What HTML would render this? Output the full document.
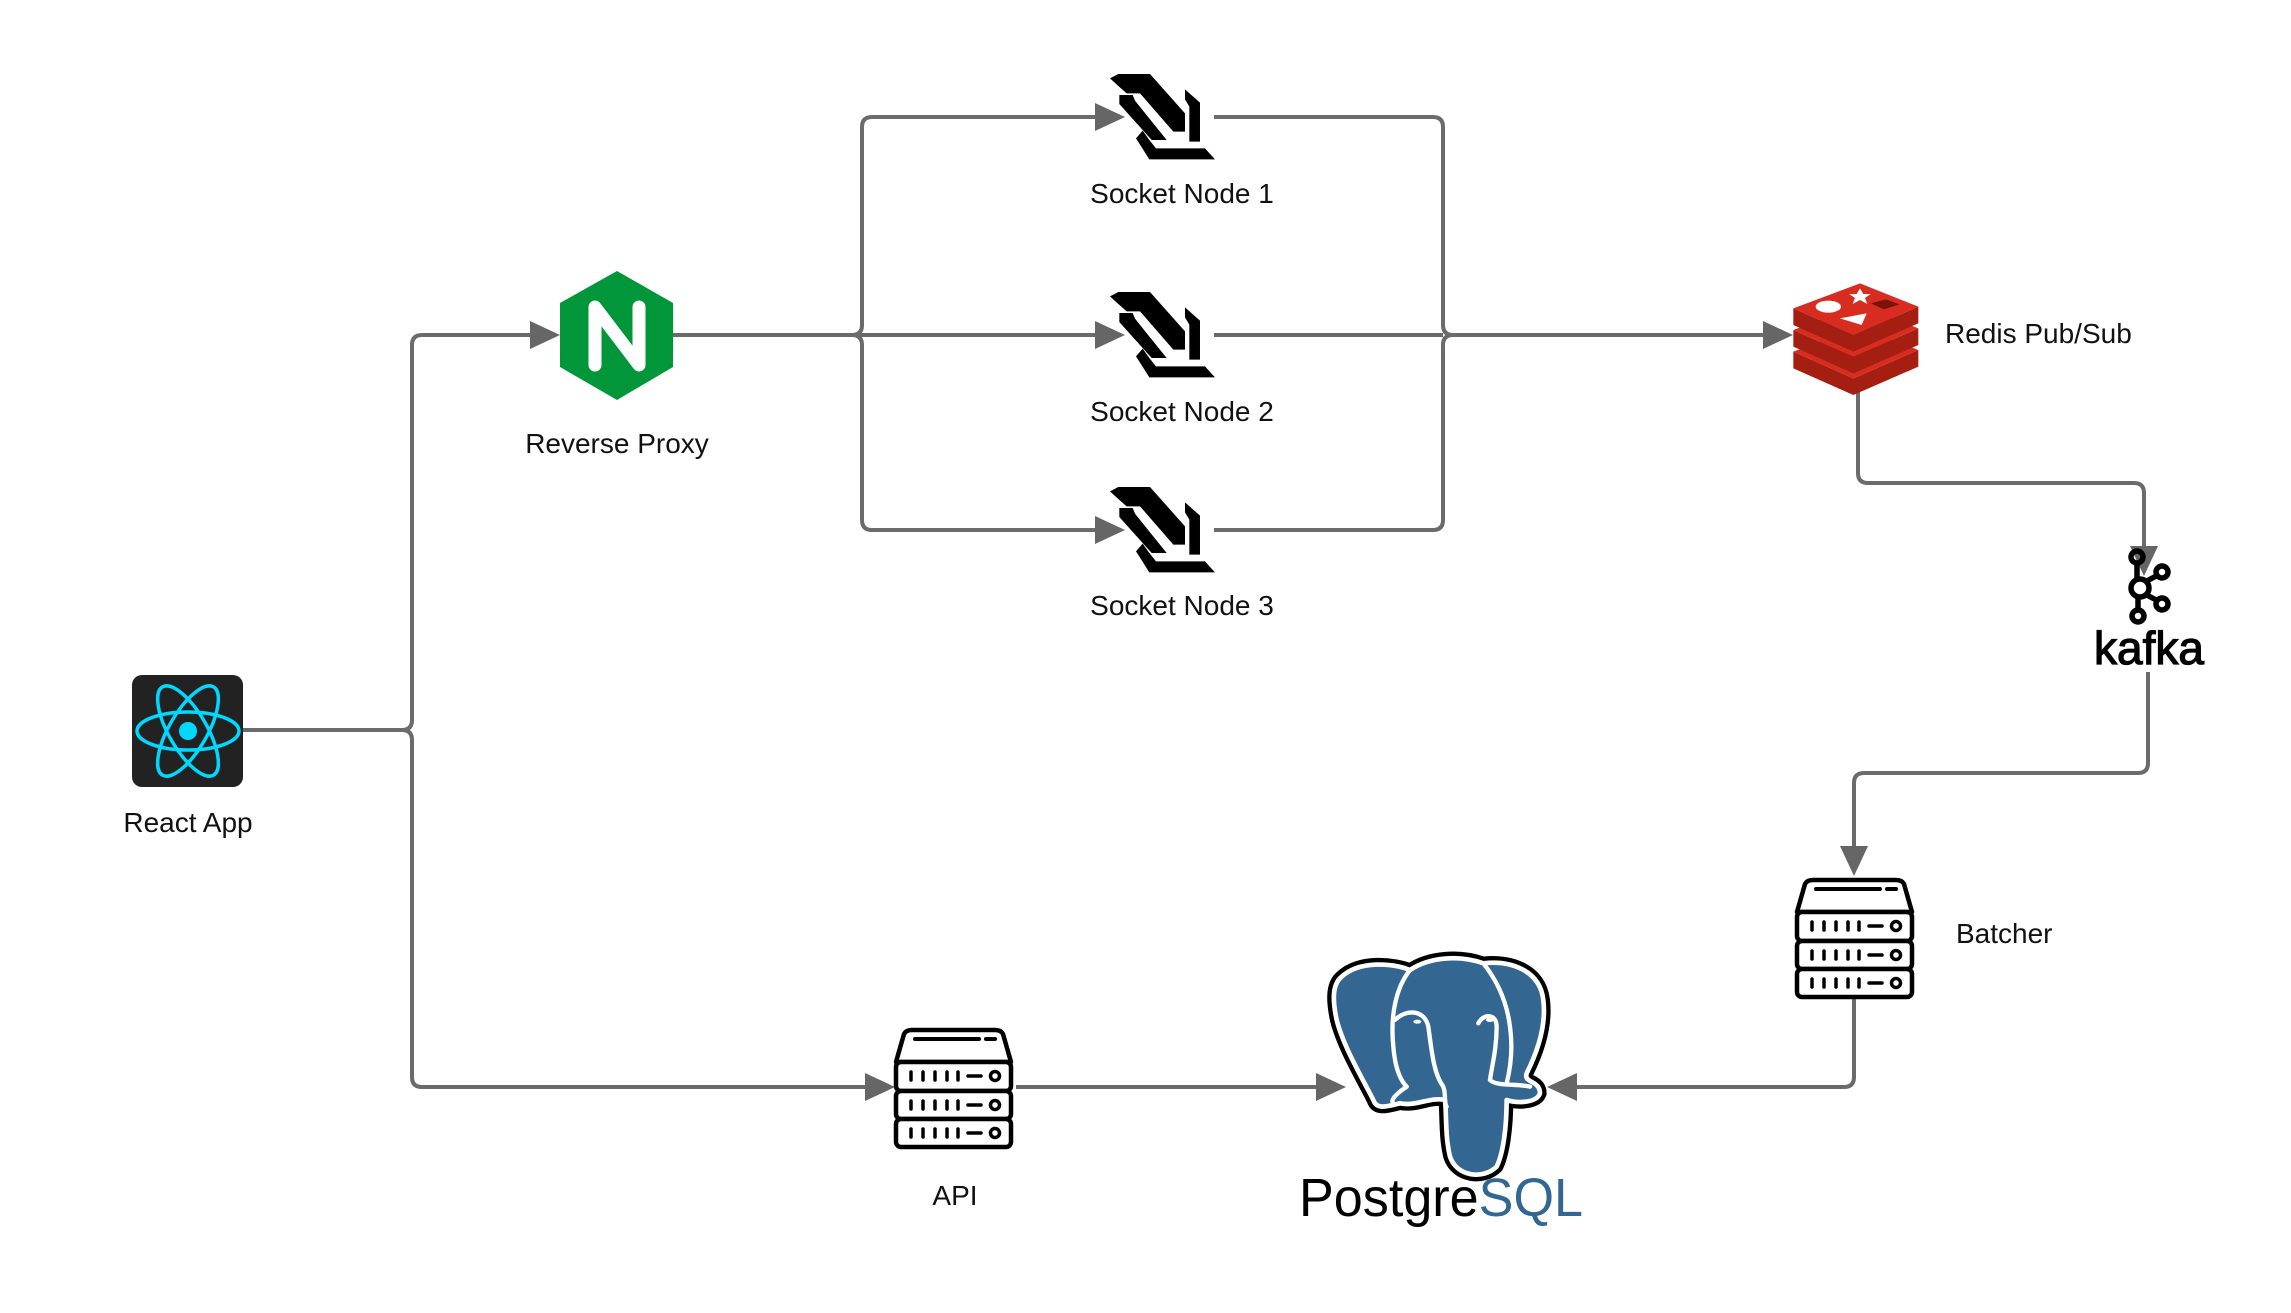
<!DOCTYPE html>
<html><head><meta charset="utf-8"><style>
html,body{margin:0;padding:0;background:#fff;}
svg{display:block;}
text{font-family:"Liberation Sans",sans-serif;fill:#111;}
</style></head><body>
<svg width="2291" height="1313" viewBox="0 0 2291 1313" xmlns="http://www.w3.org/2000/svg">
<defs>
<g id="srv" fill="none" stroke="#000" stroke-width="4.5" stroke-linejoin="round">
  <path d="M5,40 L13,12 Q15,8 21,8 H104 Q110,8 112,12 L120,40 Z" fill="#fff"/>
  <line x1="24" y1="17" x2="88" y2="17" stroke-width="4" stroke-linecap="round"/>
  <line x1="95" y1="17" x2="104" y2="17" stroke-width="4" stroke-linecap="round"/>
  <rect x="5" y="40" width="115" height="29" rx="5" fill="#fff"/>
  <rect x="5" y="69" width="115" height="28" rx="5" fill="#fff"/>
  <rect x="5" y="97" width="115" height="28" rx="5" fill="#fff"/>
  <g stroke-width="3.5" stroke-linecap="round">
    <path d="M20,50v8M32,50v8M44,50v8M56,50v8M67,50v8M77,54h13"/>
    <path d="M20,79v8M32,79v8M44,79v8M56,79v8M67,79v8M77,83h13"/>
    <path d="M20,107v8M32,107v8M44,107v8M56,107v8M67,107v8M77,111h13"/>
  </g>
  <circle cx="104" cy="54" r="4.5" stroke-width="3.5"/>
  <circle cx="104" cy="83" r="4.5" stroke-width="3.5"/>
  <circle cx="104" cy="111" r="4.5" stroke-width="3.5"/>
</g>
<g id="ws" fill="#000">
  <polygon points="30,55 55,42 150,42 255,160 255,215 220,215 120,100 80,100 55,78"/>
  <polygon points="58,105 98,105 105,122 200,240 155,240 58,132"/>
  <polygon points="255,88 300,128 300,245 268,245 268,140 255,118"/>
  <polygon points="128,212 108,235 148,298 345,298 315,265 168,265 148,240"/>
</g>
<g id="arr"><polygon points="0,0 -30,-14 -30,14" fill="#666"/></g>
</defs>

<g fill="none" stroke="#6b6b6b" stroke-width="4" stroke-linejoin="round">
  <path d="M243,730 H402 Q412,730 412,720 V345 Q412,335 422,335 H530"/>
  <path d="M402,730 Q412,730 412,740 V1077 Q412,1087 422,1087 H866"/>
  <path d="M673,335 H1095"/>
  <path d="M852,335 Q862,335 862,325 V127 Q862,117 872,117 H1095"/>
  <path d="M852,335 Q862,335 862,345 V520 Q862,530 872,530 H1095"/>
  <path d="M1214,117 H1433 Q1443,117 1443,127 V325 Q1443,335 1453,335 H1763"/>
  <path d="M1214,335 H1443"/>
  <path d="M1214,530 H1433 Q1443,530 1443,520 V345 Q1443,335 1453,335"/>
  <path d="M1858,391 V473 Q1858,483 1868,483 H2134 Q2144,483 2144,493 V548"/>
  <path d="M2148,672 V763 Q2148,773 2138,773 H1864 Q1854,773 1854,783 V846"/>
  <path d="M1854,998 V1077 Q1854,1087 1844,1087 H1577"/>
  <path d="M1016,1087 H1316"/>
</g>
<use href="#arr" x="560" y="335"/>
<use href="#arr" x="1125" y="117"/>
<use href="#arr" x="1125" y="335"/>
<use href="#arr" x="1125" y="530"/>
<use href="#arr" x="1793" y="335"/>
<use href="#arr" x="895" y="1087"/>
<use href="#arr" x="1346" y="1087"/>
<g transform="translate(1547,1087) rotate(180)"><polygon points="0,0 -30,-14 -30,14" fill="#666"/></g>
<g transform="translate(2144,576) rotate(90)"><polygon points="0,0 -30,-14 -30,14" fill="#666"/></g>
<g transform="translate(1854,876) rotate(90)"><polygon points="0,0 -30,-14 -30,14" fill="#666"/></g>

<rect x="132" y="675" width="111" height="112" rx="10" fill="#222"/>
<g fill="none" stroke="#00d8ff" stroke-width="3.5" transform="translate(188,731)">
  <ellipse rx="51" ry="19"/>
  <ellipse rx="51" ry="19" transform="rotate(60)"/>
  <ellipse rx="51" ry="19" transform="rotate(-60)"/>
</g>
<circle cx="188" cy="731" r="9" fill="#00d8ff"/>
<text x="188" y="832" font-size="28" text-anchor="middle">React App</text>

<polygon points="617,271 673,303 673,367 617,400 560,367 560,303" fill="#009639"/>
<path d="M595,365 V307 L639,365 V307" fill="none" stroke="#fff" stroke-width="13" stroke-linecap="round" stroke-linejoin="round"/>
<text x="617" y="453" font-size="28" text-anchor="middle">Reverse Proxy</text>

<use href="#ws" transform="translate(1100,60) scale(0.3333)"/>
<use href="#ws" transform="translate(1100,278) scale(0.3333)"/>
<use href="#ws" transform="translate(1100,473) scale(0.3333)"/>
<text x="1182" y="203" font-size="28" text-anchor="middle">Socket Node 1</text>
<text x="1182" y="421" font-size="28" text-anchor="middle">Socket Node 2</text>
<text x="1182" y="615" font-size="28" text-anchor="middle">Socket Node 3</text>

<g transform="translate(1780,270) scale(0.3333)">
  <g transform="translate(0,130)"><polygon points="40,115 220,195 415,110 415,160 220,245 40,165" fill="#a41e11"/><polygon points="40,115 240,40 415,110 220,195" fill="#d82c20"/></g>
  <g transform="translate(0,65)"><polygon points="40,115 220,195 415,110 415,160 220,245 40,165" fill="#a41e11"/><polygon points="40,115 240,40 415,110 220,195" fill="#d82c20"/></g>
  <polygon points="40,115 220,195 415,110 415,160 220,245 40,165" fill="#a41e11"/>
  <polygon points="40,115 240,40 415,110 220,195" fill="#d82c20"/>
  <ellipse cx="145" cy="110" rx="38" ry="18" fill="#fff"/>
  <polygon points="240,55 250,72 272,72 255,84 262,102 240,90 218,102 225,84 208,72 230,72" fill="#fff"/>
  <polygon points="180,145 260,130 245,165" fill="#fff"/>
  <polygon points="272,100 318,88 358,103 312,118" fill="#7a1309"/>
</g>
<text x="1945" y="343" font-size="28">Redis Pub/Sub</text>

<g fill="none" stroke="#000" stroke-width="5.5">
  <path d="M2137,563 V578 M2138,598 V609 M2145,582 L2158,575 M2145,594 L2158,601"/>
  <circle cx="2137" cy="557" r="6"/>
  <circle cx="2140" cy="588" r="9"/>
  <circle cx="2138" cy="616" r="6"/>
  <circle cx="2162" cy="572" r="6"/>
  <circle cx="2162" cy="604" r="6"/>
</g>
<text x="2149" y="664" font-size="46" text-anchor="middle" stroke="#000" stroke-width="1.2" style="fill:#000">kafka</text>

<use href="#srv" x="891" y="1022"/>
<text x="955" y="1205" font-size="28" text-anchor="middle">API</text>
<use href="#srv" x="1792" y="872"/>
<text x="1956" y="943" font-size="28">Batcher</text>

<g transform="translate(1310,940) scale(0.3333)">
  <path d="M95,110 C150,60 250,70 300,90 C360,50 450,45 520,70 C600,60 690,90 700,180 C710,260 680,340 650,400 C640,430 690,420 690,460 C680,490 620,490 590,480 C590,560 580,640 560,680 C520,720 440,710 420,650 C405,590 410,520 405,480 C360,470 320,500 270,490 C230,500 200,510 190,480 C160,420 100,320 80,240 C65,170 70,130 95,110 Z" fill="#000" stroke="#000" stroke-width="40" stroke-linejoin="round"/>
  <path d="M95,110 C150,60 250,70 300,90 C360,50 450,45 520,70 C600,60 690,90 700,180 C710,260 680,340 650,400 C640,430 690,420 690,460 C680,490 620,490 590,480 C590,560 580,640 560,680 C520,720 440,710 420,650 C405,590 410,520 405,480 C360,470 320,500 270,490 C230,500 200,510 190,480 C160,420 100,320 80,240 C65,170 70,130 95,110 Z" fill="#336791" stroke="#fff" stroke-width="14" stroke-linejoin="round"/>
  <g fill="none" stroke="#fff" stroke-width="13" stroke-linecap="round">
    <path d="M300,90 C260,140 240,220 250,320 C255,380 270,420 290,440"/>
    <path d="M520,70 C560,120 590,180 600,260 C610,330 600,390 590,430"/>
    <path d="M255,240 C290,205 345,210 355,260 C365,330 370,400 400,440 C410,470 400,490 410,500"/>
    <path d="M505,250 C520,220 560,220 560,260 C560,330 545,380 540,420 C560,440 620,430 660,440"/>
    <path d="M290,440 C260,460 240,480 250,490"/>
  </g>
  <ellipse cx="322" cy="245" rx="12" ry="6" fill="#fff"/>
  <ellipse cx="540" cy="240" rx="12" ry="6" fill="#fff"/>
</g>
<text x="1299" y="1216" font-size="54" textLength="284" lengthAdjust="spacingAndGlyphs" style="fill:#000">Postgre<tspan style="fill:#336791">SQL</tspan></text>
</svg>
</body></html>
